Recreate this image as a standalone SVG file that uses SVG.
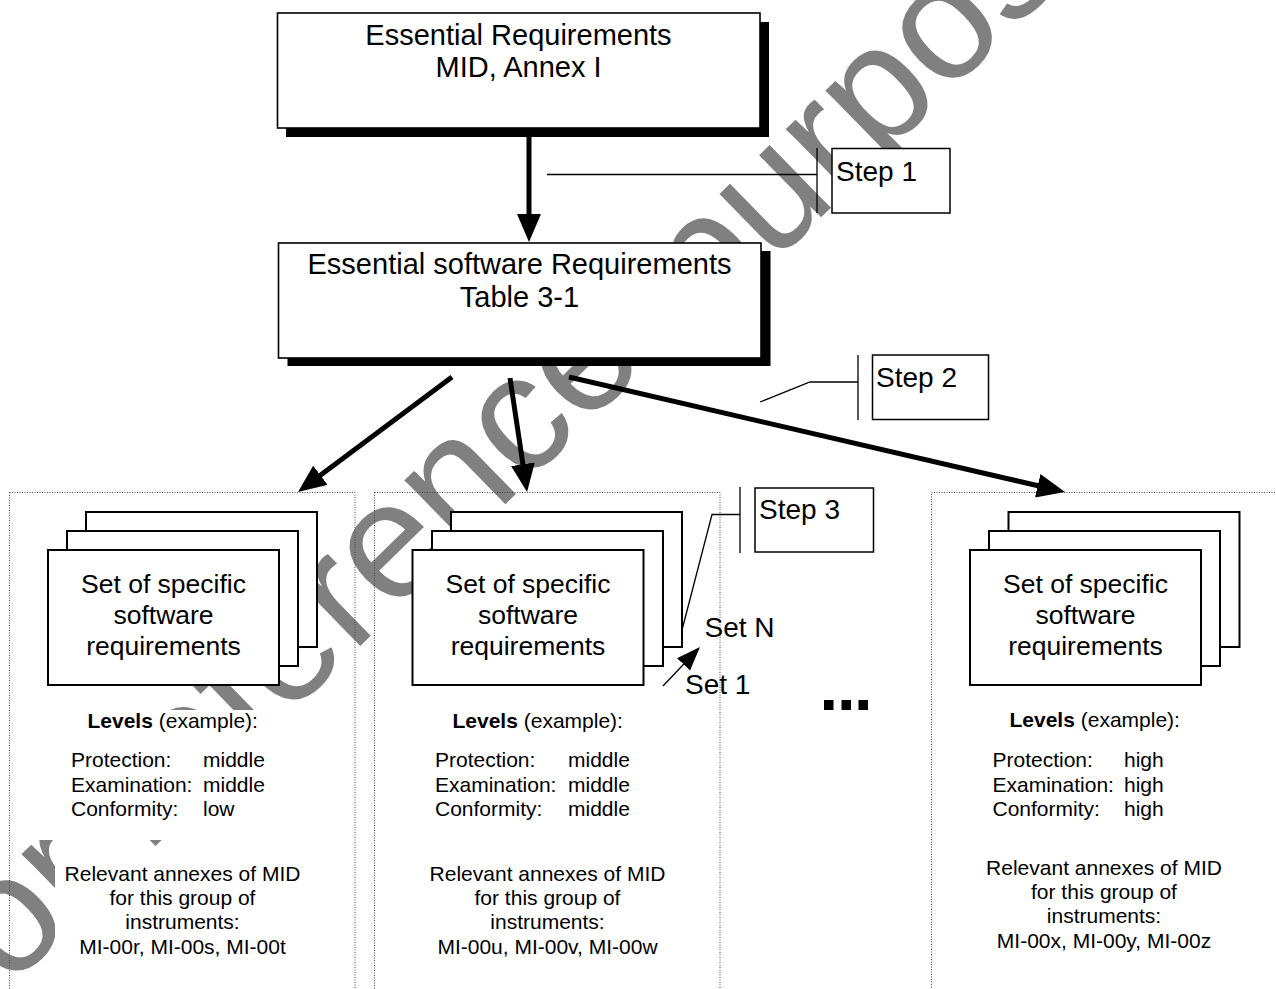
<svg xmlns="http://www.w3.org/2000/svg" width="1276" height="989" viewBox="0 0 1276 989">
<style>
text{font-family:"Liberation Sans",Arial,sans-serif;fill:#000}
.t29{font-size:29px;text-anchor:middle}
.t27{font-size:26.5px;text-anchor:middle}
.step{font-size:28px}
.sm{font-size:21px}
.smc{font-size:21px;text-anchor:middle}
.main{fill:#fff;stroke:#000;stroke-width:1.6}
.shadow{fill:#000}
.card{fill:#fff;stroke:#000;stroke-width:2}
.sbox{fill:#fff;stroke:#000;stroke-width:1.5}
.tbox{fill:#fff;stroke:none}
.thin{fill:none;stroke:#000;stroke-width:1.3}
.dot{fill:none;stroke:#444;stroke-width:1;stroke-dasharray:1 1.5}
.arr{fill:none;stroke:#000;stroke-width:5}
.wm{font-size:166px;fill:#808080}
</style>
<defs>
<marker id="ah" markerUnits="userSpaceOnUse" markerWidth="28" markerHeight="24" refX="8" refY="12" orient="auto"><path d="M0,0 L28,12 L0,24 z" fill="#000"/></marker>
<marker id="ahs" markerUnits="userSpaceOnUse" markerWidth="24" markerHeight="18" refX="14" refY="9" orient="auto"><path d="M0,0 L24,9 L0,18 z" fill="#000"/></marker>
</defs>
<rect width="1276" height="989" fill="#fff"/>
<text class="wm" transform="translate(-64,1060) rotate(-44.3)">For reference <tspan dx="20" dy="15">purposes</tspan></text>

<g id="containers">
<rect class="dot" x="9.5" y="492.5" width="345.5" height="510"/>
<rect class="dot" x="374.5" y="492.5" width="345.5" height="510"/>
<rect class="dot" x="931.5" y="492.5" width="400" height="510"/>
</g>

<g id="node-essential">
<rect class="shadow" x="286" y="22" width="483" height="115"/>
<rect class="main" x="277.5" y="13" width="482.5" height="115"/>
<text class="t29" x="518.5" y="45">Essential Requirements</text>
<text class="t29" x="518.5" y="77">MID, Annex I</text>
</g>

<g id="node-software">
<rect class="shadow" x="287.5" y="251" width="483" height="115"/>
<rect class="main" x="278.5" y="243" width="482.5" height="115"/>
<text class="t29" x="519.5" y="274">Essential software Requirements</text>
<text class="t29" x="519.5" y="307">Table 3-1</text>
</g>

<g id="step1">
<rect class="sbox" x="832" y="148.5" width="118" height="64.5"/>
<text class="step" x="836" y="181">Step 1</text>
</g>
<g id="step2">
<rect class="sbox" x="872.5" y="355" width="116" height="64.5"/>
<text class="step" x="876" y="387">Step 2</text>
</g>
<g id="step3">
<rect class="sbox" x="755" y="488" width="118.5" height="64"/>
<text class="step" x="759" y="519">Step 3</text>
</g>

<g id="group-left">
<rect class="card" x="86" y="512" width="231" height="135"/>
<rect class="card" x="67" y="531" width="231" height="135"/>
<rect class="card" x="48" y="550" width="231" height="135"/>
<text class="t27" x="163.5" y="593">Set of specific</text>
<text class="t27" x="163.5" y="624">software</text>
<text class="t27" x="163.5" y="655">requirements</text>
<rect class="tbox" x="15" y="710" width="330" height="130"/>
<rect class="tbox" x="55" y="857" width="255" height="128"/>
<text class="sm" x="87.5" y="728"><tspan font-weight="bold">Levels</tspan> (example):</text>
<text class="sm" x="71" y="767">Protection:</text><text class="sm" x="203" y="767">middle</text>
<text class="sm" x="71" y="791.5">Examination:</text><text class="sm" x="203" y="791.5">middle</text>
<text class="sm" x="71" y="816">Conformity:</text><text class="sm" x="203" y="816">low</text>
<text class="smc" x="182.5" y="881">Relevant annexes of MID</text>
<text class="smc" x="182.5" y="905">for this group of</text>
<text class="smc" x="182.5" y="929">instruments:</text>
<text class="smc" x="182.5" y="953.5">MI-00r, MI-00s, MI-00t</text>
</g>

<g id="group-middle">
<rect class="card" x="451" y="512" width="231" height="135"/>
<rect class="card" x="432" y="531" width="231" height="135"/>
<rect class="card" x="412.5" y="550" width="231" height="135"/>
<text class="t27" x="528" y="593">Set of specific</text>
<text class="t27" x="528" y="624">software</text>
<text class="t27" x="528" y="655">requirements</text>
<text class="sm" x="452.5" y="728"><tspan font-weight="bold">Levels</tspan> (example):</text>
<text class="sm" x="435" y="767">Protection:</text><text class="sm" x="568" y="767">middle</text>
<text class="sm" x="435" y="791.5">Examination:</text><text class="sm" x="568" y="791.5">middle</text>
<text class="sm" x="435" y="816">Conformity:</text><text class="sm" x="568" y="816">middle</text>
<text class="smc" x="547.5" y="881">Relevant annexes of MID</text>
<text class="smc" x="547.5" y="905">for this group of</text>
<text class="smc" x="547.5" y="929">instruments:</text>
<text class="smc" x="547.5" y="953.5">MI-00u, MI-00v, MI-00w</text>
<text class="step" x="704.5" y="637">Set N</text>
<text class="step" x="685" y="694">Set 1</text>
</g>

<g id="ellipsis">
<rect x="824" y="700" width="9.5" height="10"/>
<rect x="841.5" y="700" width="9.5" height="10"/>
<rect x="858.5" y="700" width="9.5" height="10"/>
</g>

<g id="group-right">
<rect class="card" x="1008.5" y="512" width="231" height="135"/>
<rect class="card" x="989" y="531" width="231" height="135"/>
<rect class="card" x="970" y="550" width="231" height="135"/>
<text class="t27" x="1085.5" y="593">Set of specific</text>
<text class="t27" x="1085.5" y="624">software</text>
<text class="t27" x="1085.5" y="655">requirements</text>
<text class="sm" x="1009.5" y="727"><tspan font-weight="bold">Levels</tspan> (example):</text>
<text class="sm" x="992.5" y="767">Protection:</text><text class="sm" x="1124" y="767">high</text>
<text class="sm" x="992.5" y="791.5">Examination:</text><text class="sm" x="1124" y="791.5">high</text>
<text class="sm" x="992.5" y="816">Conformity:</text><text class="sm" x="1124" y="816">high</text>
<text class="smc" x="1104" y="875">Relevant annexes of MID</text>
<text class="smc" x="1104" y="899">for this group of</text>
<text class="smc" x="1104" y="923">instruments:</text>
<text class="smc" x="1104" y="947.5">MI-00x, MI-00y, MI-00z</text>
</g>

<g id="connectors">
<line class="arr" x1="529" y1="136" x2="529" y2="222" marker-end="url(#ah)"/>
<line class="arr" x1="452" y1="377" x2="314" y2="480" marker-end="url(#ah)"/>
<line class="arr" x1="510" y1="378" x2="524.1" y2="472.2" stroke-width="4.5" marker-end="url(#ah)"/>
<line class="arr" x1="569" y1="377" x2="1045.5" y2="487.5" marker-end="url(#ah)"/>
<line class="thin" x1="663" y1="686" x2="693.1" y2="654.2" marker-end="url(#ahs)"/>
<polyline class="thin" points="547,174.5 817,174.5"/>
<line class="thin" x1="817" y1="148" x2="817" y2="213"/>
<polyline class="thin" points="760,402 810,382 858,382"/>
<line class="thin" x1="858" y1="355" x2="858" y2="420"/>
<polyline class="thin" points="682,630 712,514.5 740,514.5"/>
<line class="thin" x1="740" y1="487" x2="740" y2="553"/>
</g>
</svg>
